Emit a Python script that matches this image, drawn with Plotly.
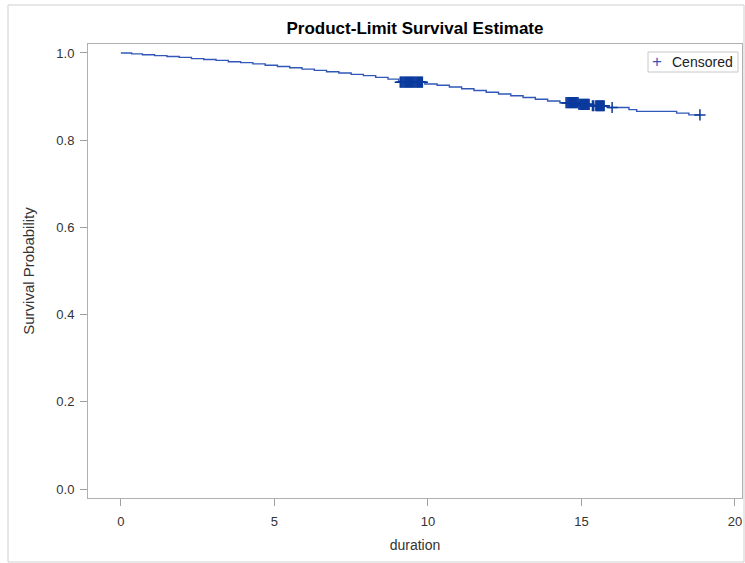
import numpy as np
import plotly.graph_objects as go

# Kaplan-Meier step data (event times and survival after each event)
event_times = [0.0, 0.35, 0.7, 1.1, 1.5, 1.9, 2.3, 2.7, 3.1, 3.5, 3.9, 4.3, 4.7, 5.1, 5.5,
               5.9, 6.3, 6.7, 7.1, 7.5, 7.9, 8.3, 8.7, 9.05, 9.9, 10.3, 10.7, 11.1, 11.5,
               11.9, 12.3, 12.7, 13.1, 13.5, 13.9, 14.3, 14.9, 15.3, 15.9, 16.55, 16.8,
               18.1, 18.5]
survival = [1.000, 0.998, 0.996, 0.994, 0.992, 0.990, 0.987, 0.985, 0.983, 0.980, 0.978,
            0.975, 0.972, 0.969, 0.966, 0.963, 0.960, 0.957, 0.954, 0.951, 0.948, 0.944,
            0.940, 0.933, 0.929, 0.926, 0.922, 0.918, 0.914, 0.910, 0.906, 0.902, 0.898,
            0.894, 0.890, 0.886, 0.882, 0.879, 0.875, 0.870, 0.866, 0.862, 0.858]
end_time = 18.86

censored_times = [9.10, 9.13, 9.16, 9.19, 9.22, 9.25, 9.28, 9.31, 9.34, 9.37, 9.40, 9.43,
                  9.46, 9.49, 9.52, 9.55, 9.58, 9.61, 9.64, 9.67, 9.70, 9.73, 9.76, 9.79, 9.82,
                  14.50, 14.53, 14.56, 14.59, 14.62, 14.65, 14.68, 14.71, 14.74, 14.77, 14.80,
                  14.83, 14.86, 14.89, 14.92, 14.95, 14.98, 15.01, 15.04, 15.07, 15.10, 15.13,
                  15.16, 15.19, 15.22, 15.25, 15.36, 15.40, 15.47, 15.50, 15.53, 15.56, 15.59,
                  15.62, 15.65, 15.68, 15.71, 15.74, 16.0, 18.86]

x_ticks = [0, 5, 10, 15, 20]
y_ticks = [0.0, 0.2, 0.4, 0.6, 0.8, 1.0]

# KM survival at censored times (step function lookup)
et = np.array(event_times)
sv = np.array(survival)
idx = np.searchsorted(et, np.array(censored_times), side="right") - 1
cens_surv = sv[idx]

line_x = event_times + [end_time]
line_y = survival + [survival[-1]]

font = "Liberation Sans, Arial, sans-serif"
LINE_C = "#3158B8"
MARK_C = "#0A3A9C"

fig = go.Figure()
fig.add_trace(go.Scatter(x=line_x, y=line_y, mode="lines", line=dict(shape="hv", color=LINE_C, width=1.4),
                         showlegend=False, hoverinfo="skip"))
fig.add_trace(go.Scatter(x=censored_times, y=cens_surv, mode="markers", name="Censored", showlegend=False,
                         marker=dict(symbol="cross-thin", size=8, line=dict(color=MARK_C, width=1.5),
                                     color=MARK_C)))

PL, PR, PT, PB = 88, 742, 44, 498
PW, PH = PR - PL, PB - PT

def px(xp):
    return (xp - PL) / PW

def py(yp):
    return (PB - yp) / PH

fig.update_layout(
    width=745, height=563,
    margin=dict(l=PL, r=745 - PR, t=PT, b=563 - PB),
    paper_bgcolor="white", plot_bgcolor="white",
    font=dict(family=font, size=13, color="#333333"),
    title=dict(text="<b>Product-Limit Survival Estimate</b>", x=(PL + PR) / 2 / 745, xanchor="center",
               y=1 - 28 / 563, yanchor="middle", font=dict(size=17, color="#000000", family=font)),
    xaxis=dict(range=[-1.07, 20.23], tickvals=x_ticks, ticks="outside", ticklen=7, tickcolor="#a0a0a0",
               showline=True, linecolor="#b0b0b0", linewidth=1, mirror=True, showgrid=False, zeroline=False,
               ticklabelstandoff=4,
               title=dict(text="duration", font=dict(size=14), standoff=12), tickfont=dict(size=13)),
    yaxis=dict(range=[-0.0206, 1.0206], tickvals=y_ticks, tickformat=".1f", ticks="outside", ticklen=7,
               tickcolor="#a0a0a0", showline=True, linecolor="#b0b0b0", linewidth=1, mirror=True,
               showgrid=False, zeroline=False, ticklabelstandoff=3,
               title=dict(text="Survival Probability", font=dict(size=15), standoff=18), tickfont=dict(size=13)),
    showlegend=False,
)

# Manual legend
fig.add_shape(type="rect", xref="paper", yref="paper", x0=px(648), x1=px(738), y0=py(72), y1=py(52),
              line=dict(color="#c8c8c8", width=1), fillcolor="white")
fig.add_annotation(xref="paper", yref="paper", x=px(657), y=py(61.5), text="+", showarrow=False,
                   xanchor="center", yanchor="middle", font=dict(size=17, color=LINE_C, family=font))
fig.add_annotation(xref="paper", yref="paper", x=px(670), y=py(61.5), text="Censored", showarrow=False,
                   xanchor="left", yanchor="middle", font=dict(size=14, color="#222222", family=font))

# Outer light-gray frame around the graph
fig.add_shape(type="rect", xref="paper", yref="paper",
              x0=px(8), x1=px(744), y0=py(562), y1=py(5),
              line=dict(color="#d0d0d0", width=1), layer="below")

fig.write_html("out.html")
